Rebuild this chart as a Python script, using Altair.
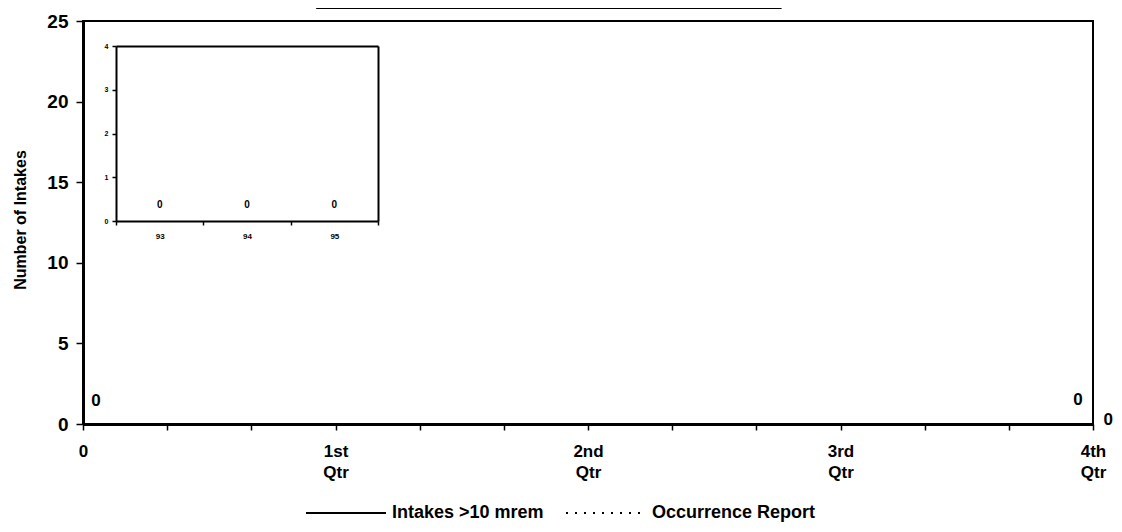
import json
import altair as alt
import pandas as pd

# ---------------- data ----------------
quarter_pos = [0, 3, 6, 9, 12]
quarter_labels = ["0", "1st Qtr", "2nd Qtr", "3rd Qtr", "4th Qtr"]
series_names = ["Intakes >10 mrem", "Occurrence Report"]
intakes = [0, 0, 0, 0, 0]
occurrence = [0, 0, 0, 0, 0]

start_label_x = [0]
start_label_val = [0]
end_label_x = [12]
end_label_val = [0]

inset_years = ["93", "94", "95"]
inset_values = [0, 0, 0]

redaction_span = [2.77, 8.30]   # in month units along the main x axis
redaction_level = [25.74, 26.6]

FONT = "Liberation Sans"
W, H = 1010, 403

# ---------------- frames ----------------
df_lines = pd.DataFrame({
    "x": quarter_pos * 2,
    "y": intakes + occurrence,
    "series": [series_names[0]] * len(quarter_pos) + [series_names[1]] * len(quarter_pos),
})
df_start = pd.DataFrame({"x": start_label_x, "y": start_label_val,
                         "lbl": [str(v) for v in start_label_val]})
df_end = pd.DataFrame({"x": end_label_x, "y": end_label_val,
                       "lbl": [str(v) for v in end_label_val]})
df_bar = pd.DataFrame({"x": [redaction_span[0]], "x2": [redaction_span[1]],
                       "y": [redaction_level[0]], "y2": [redaction_level[1]]})
df_inset = pd.DataFrame({"year": inset_years, "v": inset_values,
                         "lbl": [str(v) for v in inset_values]})

# ---------------- main scales / axes ----------------
label_list = json.dumps(quarter_labels).replace('"', "'")
x_main = alt.X(
    "x:Q",
    scale=alt.Scale(domain=[0, 12], nice=False, zero=False),
    axis=alt.Axis(
        orient="bottom", title=None, grid=False,
        values=list(range(13)),
        labelExpr=f"datum.value % 3 == 0 ? split({label_list}[datum.value / 3], ' ') : ''",
        labelFont=FONT, labelFontSize=17, labelFontWeight="bold", labelColor="black",
        labelLineHeight=21, labelPadding=13, labelOverlap=False, labelFlush=False,
        tickSize=6, tickWidth=1.5, tickColor="black",
        domainWidth=3, domainColor="black",
    ),
)
y_main = alt.Y(
    "y:Q",
    scale=alt.Scale(domain=[0, 25], nice=False),
    axis=alt.Axis(
        orient="left", title="Number of Intakes", grid=False,
        values=[0, 5, 10, 15, 20, 25],
        labelFont=FONT, labelFontSize=19, labelFontWeight="bold", labelColor="black",
        labelPadding=8,
        tickSize=7, tickWidth=1.5, tickColor="black",
        domainWidth=3, domainColor="black",
        titleFont=FONT, titleFontSize=16, titleFontWeight="bold", titleColor="black",
        titleX=-63, titleY=H / 2 - 3, titleAngle=270, titleBaseline="middle", titleAlign="center",
    ),
)

lines = alt.Chart(df_lines).mark_line(color="black", strokeWidth=2).encode(
    x=x_main,
    y=y_main,
    strokeDash=alt.StrokeDash(
        "series:N",
        scale=alt.Scale(domain=series_names, range=[[1, 0], [2, 7]]),
        legend=alt.Legend(
            orient="none", legendX=222, legendY=451, direction="horizontal",
            title=None, symbolType="stroke", symbolSize=6400,
            symbolStrokeWidth=2, symbolStrokeColor="black",
            labelFont=FONT, labelFontSize=18, labelFontWeight="bold", labelColor="black",
            labelOffset=5, columnPadding=18, labelLimit=500,
        ),
    ),
)

lbl_start = alt.Chart(df_start).mark_text(
    font=FONT, fontSize=17, fontWeight="bold", color="black", dx=13, dy=-23
).encode(x=x_main, y=y_main, text="lbl:N")
lbl_end_in = alt.Chart(df_end).mark_text(
    font=FONT, fontSize=17, fontWeight="bold", color="black", dx=-15, dy=-24
).encode(x=x_main, y=y_main, text="lbl:N")
lbl_end_out = alt.Chart(df_end).mark_text(
    font=FONT, fontSize=17, fontWeight="bold", color="black", dx=20, dy=-4, align="right"
).encode(x=x_main, y=y_main, text="lbl:N")

bar = alt.Chart(df_bar).mark_rect(color="black").encode(
    x=x_main, x2="x2:Q", y=y_main, y2="y2:Q"
)

main = alt.layer(lines, lbl_start, lbl_end_in, lbl_end_out, bar)

# ---------------- inset ----------------
inset_x_scale = alt.Scale(type="band", domain=inset_years, range=[33, 295],
                          paddingInner=0, paddingOuter=0)
inset_y_scale = alt.Scale(domain=[0, 4], range=[200, 25], nice=False)

inset = alt.Chart(df_inset).mark_text(
    font=FONT, fontSize=10, fontWeight="bold", color="black", dy=-16
).encode(
    x=alt.X("year:O", scale=inset_x_scale, axis=alt.Axis(
        orient="bottom", offset=-203, title=None, grid=False, labelAngle=0,
        tickBand="extent", tickSize=4, tickWidth=1.5, tickColor="black",
        labelFont=FONT, labelFontSize=8, labelFontWeight="bold", labelColor="black",
        labelPadding=7, domainWidth=2, domainColor="black",
    )),
    y=alt.Y("v:Q", scale=inset_y_scale, axis=alt.Axis(
        orient="left", offset=-33, title=None, grid=False,
        values=[0, 1, 2, 3, 4], tickSize=4, tickWidth=1.5, tickColor="black",
        labelFont=FONT, labelFontSize=7, labelFontWeight="bold", labelColor="black",
        labelPadding=4, domainWidth=2, domainColor="black",
    )),
    text="lbl:N",
)

inset_frame = alt.Chart(df_inset).mark_point(opacity=0).encode(
    x=alt.X("year:O", scale=inset_x_scale, axis=alt.Axis(
        orient="top", offset=-25, title=None, grid=False, labels=False, ticks=False,
        domainWidth=2, domainColor="black",
    )),
    y=alt.Y("v:Q", scale=inset_y_scale, axis=alt.Axis(
        orient="right", offset=-(W - 295), title=None, grid=False, labels=False, ticks=False,
        domainWidth=2, domainColor="black",
    )),
)

chart = (
    alt.layer(main, inset, inset_frame)
    .resolve_scale(x="independent", y="independent")
    .properties(
        width=W, height=H,
        autosize=alt.AutoSizeParams(type="none"),
        padding={"left": 75, "top": 13, "right": 21, "bottom": 100},
        background="white",
    )
    .configure(font=FONT)
    .configure_view(stroke="black", strokeWidth=2)
    .configure_axis(grid=False)
)

chart.save("out.html", embed_options={"renderer": "svg", "actions": False})
